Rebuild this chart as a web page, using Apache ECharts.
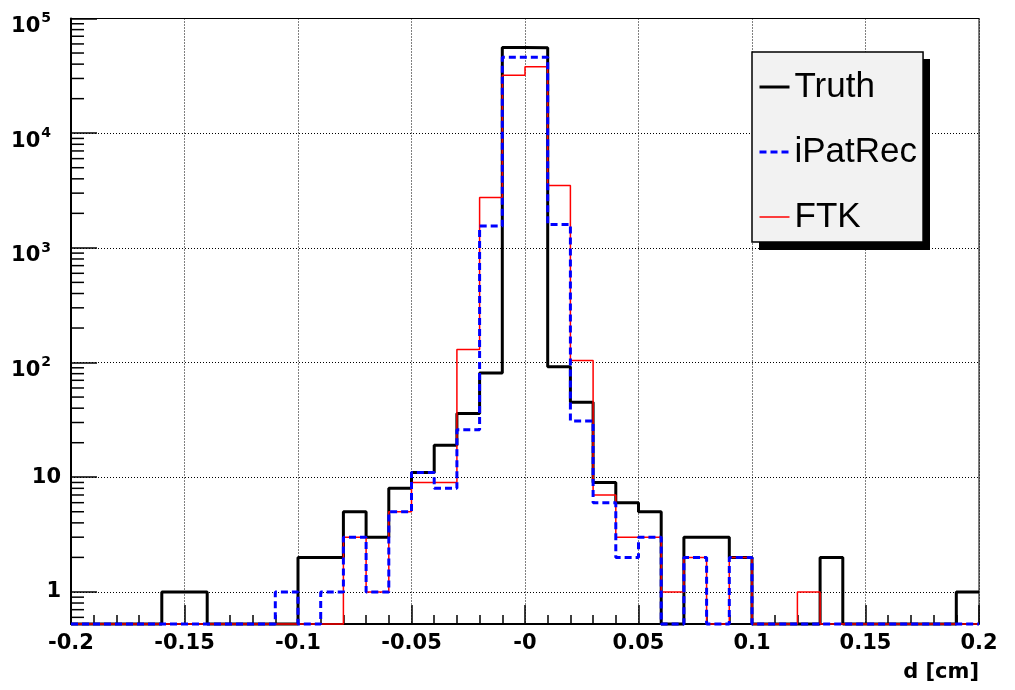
<!DOCTYPE html>
<html>
<head>
<meta charset="utf-8">
<script src="https://cdn.jsdelivr.net/npm/echarts@6/dist/echarts.min.js"></script>
<style>
html,body{margin:0;padding:0;background:#fff;}
#chart{width:1015px;height:690px;}
</style>
</head>
<body>
<div id="chart"></div>
<script>
// ---- data ----
const BIN_START = -0.2;
const BIN_WIDTH = 0.01;
const legendOrder = ['Truth', 'iPatRec', 'FTK'];
// 40 bins from -0.2 to 0.2
const truth = [0,0,0,0,1,1,0,0,0,0, 2,2,5,3,8,11,19,36,81,56000, 55500,92,45,9,6,5,0,3,3,2, 0,0,0,2,0,0,0,0,0,1];
const ipatrec = [0,0,0,0,0,0,0,0,0,1, 0,1,3,1,5,11,8,26,1550,46000, 46000,1600,31,6,2,3,0,2,0,2, 0,0,0,0,0,0,0,0,0,0];
const ftk = [0,0,0,0,0,0,0,0,0,0, 0,0,3,1,5,9,9,130,2750,32000, 38000,3500,104,7,3,3,1,2,0,2, 0,0,1,0,0,0,0,0,0,0];
const xTickValues = [-0.2,-0.15,-0.1,-0.05,0,0.05,0.1,0.15,0.2];
const xTickLabels = ['-0.2','-0.15','-0.1','-0.05','-0','0.05','0.1','0.15','0.2'];
const yTickValues = [1,10,100,1000,10000,100000];
const yTickLabels = ['1','10','10^2','10^3','10^4','10^5'];
const xTitle = 'd [cm]';

// ---- build ----
const X_MIN = -0.2, X_MAX = 0.2;
const Y_MIN = 0.525, Y_MAX = 100000;
function histData(vals){
  const out = [];
  for (let i = 0; i < vals.length; i++) {
    const edge = +(BIN_START + i * BIN_WIDTH).toFixed(4);
    out.push([edge, vals[i] > 0 ? vals[i] : Y_MIN]);
  }
  out.push([+(BIN_START + vals.length * BIN_WIDTH).toFixed(4), vals[vals.length-1] > 0 ? vals[vals.length-1] : Y_MIN]);
  return out;
}
const minorY = [];
for (let k = -1; k <= 4; k++) {
  for (let m = 2; m <= 9; m++) {
    const v = m * Math.pow(10, k);
    if (v > Y_MIN && v < Y_MAX) minorY.push([X_MIN, v]);
  }
}
function xLabel(v){
  for (let i = 0; i < xTickValues.length; i++) if (Math.abs(v - xTickValues[i]) < 1e-9) return xTickLabels[i];
  return '';
}
function yLabel(v){
  for (let i = 0; i < yTickValues.length; i++) {
    if (Math.abs(v - yTickValues[i]) / yTickValues[i] < 1e-6) {
      const t = yTickLabels[i];
      if (t.indexOf('^') >= 0) { const p = t.split('^'); return '{b|' + p[0] + '}{s|' + p[1] + '}'; }
      return t;
    }
  }
  return '';
}
const FONT = 'DejaVu Sans';
const lineStyles = {
  Truth: {color: '#000', width: 3},
  iPatRec: {color: '#0000ff', width: 3, type: [7, 4], cap: 'butt'},
  FTK: {color: '#ff0000', width: 1.5}
};
const chart = echarts.init(document.getElementById('chart'), null, {renderer: 'canvas'});
chart.setOption({
  backgroundColor: '#ffffff',
  animation: false,
  title: {
    text: xTitle, right: 36, top: 662, padding: 0,
    textStyle: {fontFamily: FONT, fontWeight: 'bold', fontSize: 21, color: '#000'}
  },
  graphic: [{
    type: 'rect', z: 1, left: 759, top: 59,
    shape: {width: 171, height: 191},
    style: {fill: '#000'}
  }],
  grid: {left: 71, right: 36, top: 16, bottom: 66, show: true, borderColor: '#000', borderWidth: 1, containLabel: false},
  legend: {
    data: legendOrder.map(n => ({name: n, lineStyle: {width: lineStyles[n].width, color: lineStyles[n].color, type: lineStyles[n].type || 'solid'}})),
    orient: 'vertical', left: 752, top: 52, z: 10,
    itemWidth: 30, itemHeight: 14, itemGap: 25,
    padding: [15, 6, 5, 6],
    backgroundColor: '#f2f2f2', borderColor: '#000', borderWidth: 1.5,
    selectedMode: false,
    itemStyle: {opacity: 0},
    textStyle: {fontFamily: 'Liberation Sans', fontSize: 35, color: '#000', lineHeight: 40}
  },
  xAxis: {
    type: 'value', min: X_MIN, max: X_MAX, interval: 0.05,
    axisLine: {show: true, onZero: false, lineStyle: {color: '#000', width: 2}},
    axisTick: {show: true, inside: true, length: 19, lineStyle: {color: '#000', width: 1.5}},
    minorTick: {show: true, splitNumber: 5, length: 9, lineStyle: {color: '#000', width: 1.5}},
    splitLine: {show: true, lineStyle: {color: '#000', width: 1, type: [1, 2]}},
    axisLabel: {formatter: xLabel, margin: 9, fontFamily: FONT, fontWeight: 'bold', fontSize: 21, color: '#000', showMinLabel: true, showMaxLabel: true}
  },
  yAxis: {
    type: 'log', logBase: 10, min: Y_MIN, max: Y_MAX,
    axisLine: {show: true, onZero: false, lineStyle: {color: '#000', width: 2}},
    axisTick: {show: true, inside: true, length: 26, lineStyle: {color: '#000', width: 1.5}},
    splitLine: {show: true, lineStyle: {color: '#000', width: 1, type: [1, 2]}},
    axisLabel: {
      formatter: yLabel, margin: 10, fontFamily: FONT, fontWeight: 'bold', fontSize: 21, color: '#000',
      rich: {
        b: {fontFamily: FONT, fontWeight: 'bold', fontSize: 21, color: '#000', lineHeight: 21, padding: [16, 0, 0, 0]},
        s: {fontFamily: FONT, fontWeight: 'bold', fontSize: 14, color: '#000', lineHeight: 14, padding: [0, 10, 0, 1]}
      }
    }
  },
  series: [
    {name: 'Truth', type: 'line', step: 'end', data: histData(truth), symbol: 'none', clip: false,
     lineStyle: lineStyles.Truth, itemStyle: {color: '#000'}, z: 2},
    {name: 'FTK', type: 'line', step: 'end', data: histData(ftk), symbol: 'none', clip: false,
     lineStyle: lineStyles.FTK, itemStyle: {color: '#ff0000'}, z: 3},
    {name: 'iPatRec', type: 'line', step: 'end', data: histData(ipatrec), symbol: 'none', clip: false,
     lineStyle: lineStyles.iPatRec, itemStyle: {color: '#0000ff'}, z: 4},
    {name: 'minorTicks', type: 'custom', data: minorY, silent: true, clip: false, z: 5,
     encode: {x: 0, y: 1},
     renderItem: function(params, api){
       const p = api.coord([api.value(0), api.value(1)]);
       return {type: 'line', shape: {x1: p[0], y1: p[1], x2: p[0] + 13, y2: p[1]}, style: {stroke: '#000', lineWidth: 1.5}};
     }}
  ]
});
</script>
</body>
</html>
